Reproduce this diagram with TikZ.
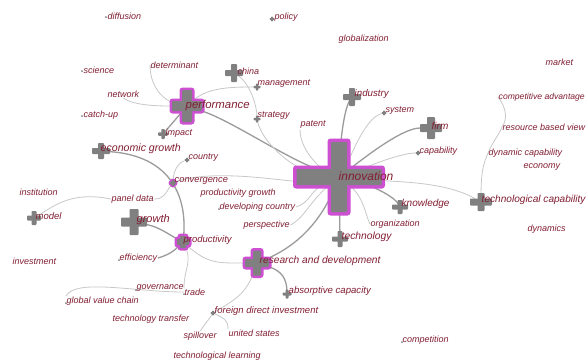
\documentclass[tikz,border=0pt]{standalone}
\usepackage{fontspec}
\setmainfont{Liberation Sans}
\usetikzlibrary{backgrounds}

\definecolor{kwred}{RGB}{130,30,50}
\definecolor{crossgray}{RGB}{128,128,128}
\definecolor{rimpink}{RGB}{205,80,210}
\definecolor{linkgray}{RGB}{200,200,200}
\definecolor{linkdark}{RGB}{155,155,155}

% cross: name, position, horizontal length, vertical length, bar width
\newcommand{\kwcross}[5]{%
  \node[bar,minimum width=#3,minimum height=#5] (#1) at (#2) {};
  \node[bar,minimum width=#5,minimum height=#4] at (#2) {};}
% the same with a pink rim of width #6
\newcommand{\kwhub}[6]{%
  \node[rim,minimum width=#3+#6,minimum height=#5+#6] at (#2) {};
  \node[rim,minimum width=#5+#6,minimum height=#4+#6] at (#2) {};
  \kwcross{#1}{#2}{#3}{#4}{#5}}

\tikzset{
  bar/.style={fill=crossgray,inner sep=0pt,outer sep=0pt,rounded corners=0.8pt},
  rim/.style={fill=rimpink,inner sep=0pt,outer sep=0pt,rounded corners=3pt},
  kw/.style={text=kwred,anchor=west,inner sep=0.5pt,font=\itshape\fontsize{9}{9}\selectfont},
  kwsize/.style={font=\itshape\fontsize{#1}{#1}\selectfont},
  link/.style={draw=linkgray,line width=0.8pt},
  strong/.style={draw=linkdark,line width=1.3pt}
}

\begin{document}
\begin{tikzpicture}[x=1pt,y=-1pt]
  \useasboundingbox (0,0) rectangle (588,360);
  % hubs
  \kwhub{innovation}{339,177}{85}{70}{16}{7}
  \kwhub{performance}{187,106}{30}{32}{10}{5}
  \kwhub{rd}{257,263}{24}{25}{8}{5}
  \kwhub{productivity}{183,242}{12}{12}{6}{5}
  \kwhub{convergence}{173,183}{6}{6}{3}{3}
  % gray crosses
  \kwcross{china}{234,73}{18}{18}{6}
  \kwcross{industry}{352,97}{18}{18}{6}
  \kwcross{firm}{431,128}{22}{22}{8}
  \kwcross{economic}{101,151}{18}{16}{6}
  \kwcross{model}{34,218}{14}{14}{5}
  \kwcross{growth}{134,222}{26}{26}{9}
  \kwcross{technology}{340,239}{16}{16}{5}
  \kwcross{knowledge}{400,207}{16}{14}{5}
  \kwcross{techcap}{481,202}{22}{18}{7}
  \kwcross{impact}{163,134}{10}{10}{3.5}
  \kwcross{management}{257,87}{7}{7}{2.5}
  \kwcross{strategy}{257,119}{7}{7}{2.5}
  \kwcross{abscap}{287,294}{9}{9}{3}
  \kwcross{country}{187,160}{5}{5}{2}
  \kwcross{fdi}{213,313}{5}{5}{2}
  \kwcross{system}{384,113}{5}{5}{2}
  \kwcross{capability}{418,153}{5}{5}{2}
  \kwcross{policy}{272,19}{5}{5}{2}
  % small marks
  \fill[crossgray] (106,17) circle(1) (82,71) circle(1) (82,116) circle(1)
    (219,209) circle(1) (136,290) circle(1) (184,294) circle(1)
    (66,303) circle(1) (119,260) circle(1) (402,342) circle(1);

  % labels of hubs and crosses
  \node[kw,kwsize=12] (l-innovation) at (338,176) {innovation};
  \node[kw,kwsize=11.4] (l-performance) at (185,106) {performance};
  \node[kw,kwsize=10.2] (l-rd) at (259,261) {research and development};
  \node[kw,kwsize=9.5] (l-productivity) at (183,240) {productivity};
  \node[kw,kwsize=9.3] (l-convergence) at (174,181) {convergence};
  \node[kw] (l-china) at (237,71) {china};
  \node[kw,kwsize=9.7] (l-industry) at (354,94) {industry};
  \node[kw,kwsize=10] (l-firm) at (431,126) {firm};
  \node[kw,kwsize=10.6] (l-economic) at (100,149) {economic growth};
  \node[kw,kwsize=9.5] (l-model) at (35,216) {model};
  \node[kw,kwsize=11] (l-growth) at (136,220) {growth};
  \node[kw,kwsize=10.3] (l-technology) at (341,237) {technology};
  \node[kw,kwsize=10] (l-knowledge) at (401,204) {knowledge};
  \node[kw,kwsize=10.1] (l-techcap) at (481,200) {technological capability};
  \node[kw] (l-impact) at (165,133) {impact};
  \node[kw] (l-management) at (257,84) {management};
  \node[kw] (l-strategy) at (257,116) {strategy};
  \node[kw,kwsize=9.6] (l-abscap) at (288,291) {absorptive capacity};
  \node[kw] (l-country) at (188,158) {country};
  \node[kw,kwsize=9.5] (l-fdi) at (214,311) {foreign direct investment};
  \node[kw] (l-system) at (385,111) {system};
  \node[kw] (l-capability) at (419,151) {capability};
  \node[kw] (l-policy) at (274,17) {policy};
  % other keywords
  \node[kw] (diffusion) at (107,16) {diffusion};
  \node[kw] (globalization) at (338,39) {globalization};
  \node[kw] (market) at (545,62) {market};
  \node[kw] (science) at (83,70) {science};
  \node[kw] (determinant) at (150,65) {determinant};
  \node[kw] (network) at (107,94) {network};
  \node[kw] (catchup) at (83,115) {catch-up};
  \node[kw] (patent) at (300,125) {patent};
  \node[kw,kwsize=8.6] (compadv) at (498,97) {competitive advantage};
  \node[kw] (rbv) at (502,127) {resource based view};
  \node[kw] (dyncap) at (488,153) {dynamic capability};
  \node[kw] (economy) at (523,167) {economy};
  \node[kw] (dynamics) at (527,229) {dynamics};
  \node[kw] (organization) at (370,224) {organization};
  \node[kw] (prodgrowth) at (200,193) {productivity growth};
  \node[kw] (devcountry) at (219,207) {developing country};
  \node[kw] (perspective) at (243,225) {perspective};
  \node[kw] (panel) at (111,199) {panel data};
  \node[kw] (institution) at (19,192) {institution};
  \node[kw] (investment) at (12,261) {investment};
  \node[kw] (efficiency) at (119,258) {efficiency};
  \node[kw] (governance) at (136,288) {governance};
  \node[kw] (trade) at (184,292) {trade};
  \node[kw] (gvc) at (66,301) {global value chain};
  \node[kw] (techtransfer) at (112,319) {technology transfer};
  \node[kw] (spillover) at (183,336) {spillover};
  \node[kw] (united) at (228,333) {united states};
  \node[kw] (techlearning) at (173,356) {technological learning};
  \node[kw] (competition) at (402,340) {competition};

  \begin{scope}[on background layer]
    \fill[white] (0,0) rectangle (588,360);
    % links
    \draw[strong] (performance) .. controls +(45,15) and +(-55,-20) .. (innovation);
    \draw[strong] (performance) -- (impact);
    \draw[link] (determinant.west) .. controls +(0,25) and +(-20,-5) .. (performance);
    \draw[link] (network.south) .. controls +(10,8) and +(-25,0) .. (performance);
    \draw[link] (performance) .. controls +(20,-18) and +(-30,0) .. (management);
    \draw[link] (china) .. controls +(15,10) and +(0,-15) .. (strategy);
    \draw[link] (strategy) .. controls +(5,25) and +(-45,-10) .. (innovation);
    \draw[link] (patent.south west) .. controls +(0,20) and +(-20,-10) .. (innovation);
    \draw[strong] (industry) .. controls +(-10,15) and +(0,-15) .. (innovation);
    \draw[link] (system) .. controls +(-20,5) and +(10,-15) .. (innovation);
    \draw[strong] (firm) .. controls +(-30,0) and +(20,-15) .. (innovation);
    \draw[link] (capability) .. controls +(-20,0) and +(15,-5) .. (innovation);
    \draw[link] (innovation) .. controls +(60,5) and +(-35,-20) .. (techcap);
    \draw[strong] (innovation) .. controls +(35,10) and +(-5,-10) .. (knowledge);
    \draw[link] (innovation) .. controls +(25,20) and +(-5,-10) .. (organization.west);
    \draw[strong] (innovation) -- (technology);
    \draw[strong] (innovation) .. controls +(-20,50) and +(35,-15) .. (rd);
    \draw[link] (innovation) .. controls +(-30,15) and +(15,-5) .. (devcountry.east);
    \draw[link] (innovation) .. controls +(-30,25) and +(15,-8) .. (perspective.east);
    \draw[link] (convergence) .. controls +(40,-15) and +(-50,5) .. (innovation);
    \draw[link] (country) .. controls +(-10,3) and +(0,-10) .. (convergence);
    \draw[link] (convergence) .. controls +(-8,10) and +(10,0) .. (panel.east);
    \draw[link] (panel.west) .. controls +(-40,-8) and +(20,-12) .. (model);
    \draw[strong] (economic) .. controls +(70,5) and +(5,-45) .. (productivity);
    \draw[strong] (growth) .. controls +(25,5) and +(-15,-8) .. (productivity);
    \draw[strong] (productivity) .. controls +(-10,10) and +(10,-3) .. (efficiency.east);
    \draw[link] (productivity) .. controls +(10,20) and +(0,-20) .. (trade.north west);
    \draw[link] (productivity) .. controls +(25,22) and +(-40,0) .. (rd);
    \draw[link] (gvc.north west) .. controls +(10,-18) and +(-50,0) .. (trade.west);
    \draw[strong] (rd) .. controls +(25,8) and +(0,-15) .. (abscap);
    \draw[link] (rd) .. controls +(-10,30) and +(25,-15) .. (fdi);
    \draw[link] (fdi) .. controls +(-5,8) and +(5,-8) .. (spillover.north);
    \draw[link] (fdi) .. controls +(10,5) and +(0,-10) .. (united.north west);
    \draw[link] (techcap) .. controls +(0,-30) and +(-5,12) .. (dyncap.west)
      .. controls +(5,-12) and +(-3,8) .. (rbv.west)
      .. controls +(6,-8) and +(8,10) .. (compadv.west);
  \end{scope}
\end{tikzpicture}
\end{document}
